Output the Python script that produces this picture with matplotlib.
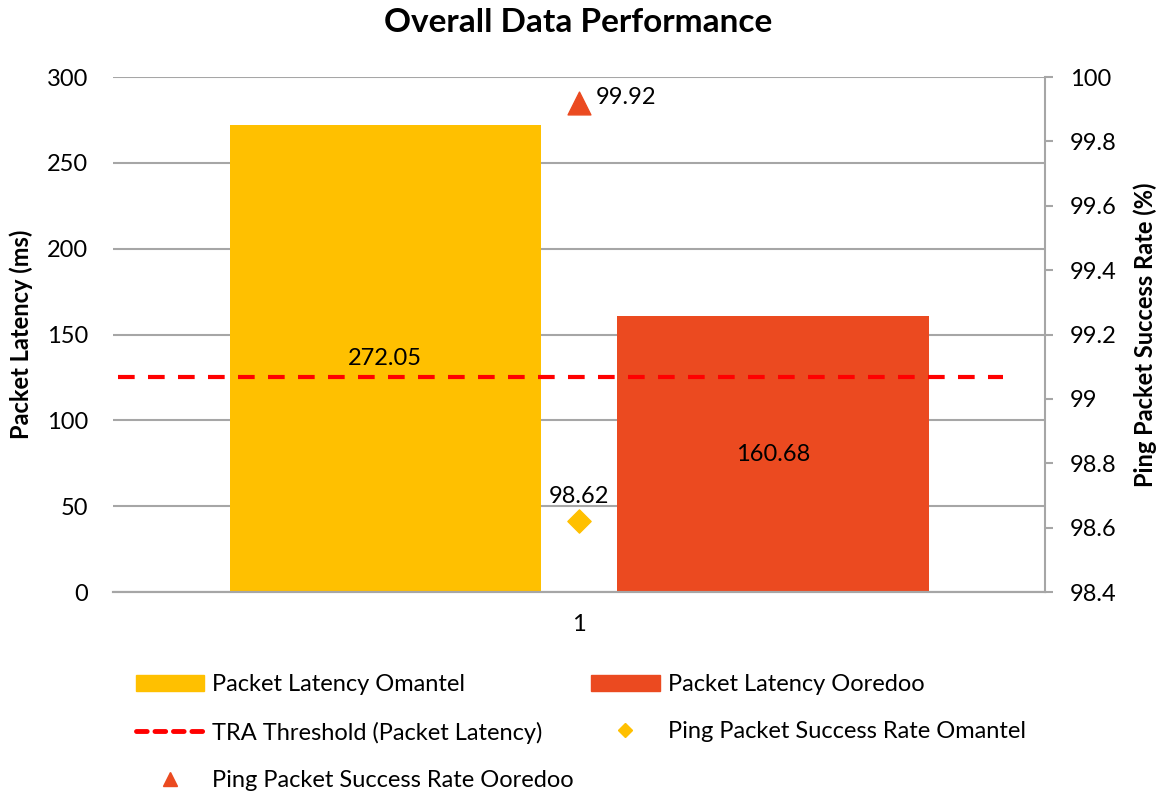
import matplotlib
matplotlib.use("Agg")
import matplotlib.pyplot as plt
from matplotlib.lines import Line2D
from matplotlib.patches import Patch

plt.rcParams['font.family'] = ['Lato', 'DejaVu Sans']

# data
category = ['1']
latency_omantel = [272.05]
latency_ooredoo = [160.68]
tra_threshold = 125
ping_omantel = [98.62]
ping_ooredoo = [99.92]
right_ticks = [98.4, 98.6, 98.8, 99, 99.2, 99.4, 99.6, 99.8, 100]
right_ticklabels = ['98.4', '98.6', '98.8', '99', '99.2', '99.4', '99.6', '99.8', '100']

yellow = '#FFC000'
orange = '#EB4A20'
grid_col = '#A6A6A6'
fs = 17

fig = plt.figure(figsize=(11.57, 7.94), dpi=100)
ax = fig.add_axes([0.0977, 0.2544, 0.8055, 0.6486])
ax2 = ax.twinx()

x = [0]
w = 0.334
b1 = ax.bar([i - 0.208 for i in x], latency_omantel, width=w, color=yellow, zorder=2)
b2 = ax.bar([i + 0.208 for i in x], latency_ooredoo, width=w, color=orange, zorder=2)
ax.hlines(tra_threshold, -0.495, 0.455, colors='#FF0000', linestyles=(0, (4, 3.2)),
          linewidth=3, zorder=3)

# labels in the middle of the bars
for rect, v in zip(list(b1) + list(b2), latency_omantel + latency_ooredoo):
    ax.text(rect.get_x() + rect.get_width() / 2, v / 2, f'{v:.2f}',
            ha='center', va='center', fontsize=fs)

ax.set_xlim(-0.5, 0.5)
ax.set_ylim(0, 300)
ax.set_yticks(range(0, 301, 50))
ax.set_xticks(x)
ax.set_xticklabels(category)
ax.yaxis.grid(True, color=grid_col, linewidth=1.5, zorder=0)
ax.set_axisbelow(True)
ax.tick_params(axis='y', length=0, labelsize=fs, pad=18)
ax.tick_params(axis='x', length=0, labelsize=fs, pad=16)
ax.set_ylabel('Packet Latency (ms)', fontsize=fs, fontweight='bold', labelpad=10)

ax2.scatter(x, ping_omantel, marker='D', s=140, color=yellow, zorder=4)
ax2.scatter(x, ping_ooredoo, marker='^', s=270, color=orange, zorder=4)
for xi, v in zip(x, ping_omantel):
    ax2.annotate(f'{v:.2f}', (xi, v), xytext=(0, 10), textcoords='offset points',
                 ha='center', va='bottom', fontsize=fs)
for xi, v in zip(x, ping_ooredoo):
    ax2.annotate(f'{v:.2f}', (xi, v), xytext=(12, 4), textcoords='offset points',
                 ha='left', va='center', fontsize=fs)
ax2.set_ylim(98.4, 100)
ax2.set_yticks(right_ticks)
ax2.set_yticklabels(right_ticklabels)
ax2.tick_params(axis='y', length=6, width=1.5, color=grid_col, labelsize=fs, pad=12)
ax2.set_ylabel('Ping Packet Success Rate (%)', fontsize=fs, fontweight='bold', labelpad=12)

for a in (ax, ax2):
    a.spines['top'].set_visible(False)
    a.spines['left'].set_visible(False)
    a.spines['right'].set_visible(False)
    a.spines['bottom'].set_color(grid_col)
    a.spines['bottom'].set_linewidth(1.5)
ax2.spines['right'].set_visible(True)
ax2.spines['right'].set_color(grid_col)
ax2.spines['right'].set_linewidth(1.5)

fig.text(0.5, 1 - 22 / 794, 'Overall Data Performance', fontsize=24, fontweight='bold',
         ha='center', va='center')

# legend filled column-wise, so order gives rows like the original
h_om = Patch(color=yellow, label='Packet Latency Omantel')
h_oo = Patch(color=orange, label='Packet Latency Ooredoo')
h_tra = Line2D([], [], color='#FF0000', linestyle=(0, (2.2, 1.6)), linewidth=3.5,
               dash_capstyle='round', label='TRA Threshold (Packet Latency)')
h_dia = Line2D([], [], color=yellow, marker='D', linestyle='none', markersize=7,
               label='Ping Packet Success Rate Omantel')
h_tri = Line2D([], [], color=orange, marker='^', linestyle='none', markersize=10,
               label='Ping Packet Success Rate Ooredoo')
fig.legend(handles=[h_om, h_tra, h_tri, h_oo, h_dia], ncol=2, loc='upper left',
           bbox_to_anchor=(136 / 1157, (794 - 674) / 794), borderpad=0, borderaxespad=0,
           frameon=False, fontsize=fs, handlelength=2.9, handleheight=0.65,
           columnspacing=0.72, labelspacing=1.12, handletextpad=0.34)

fig.savefig('out.png', dpi=100)
